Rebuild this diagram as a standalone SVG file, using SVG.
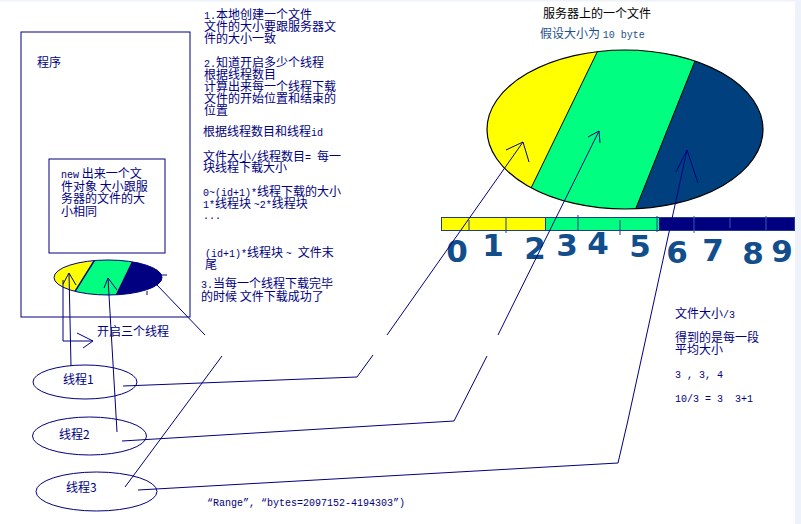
<svg xmlns="http://www.w3.org/2000/svg" width="801" height="524" viewBox="0 0 801 524">
<style>
.t{font-family:"Noto Sans CJK SC","Noto Sans",sans-serif;font-size:12px;fill:#000080;white-space:pre}
.m{font-family:"Liberation Mono",monospace;font-size:10px}
.ln{fill:none;stroke:#000080;stroke-width:1}
.node{fill:#fff;stroke:#000080;stroke-width:1}
.dg{font-family:"DejaVu Sans",sans-serif;font-size:31px;font-weight:bold;fill:#124d8c;text-anchor:middle}
.tick{stroke:#1f3d8c;stroke-width:1}
</style>
<defs>
<clipPath id="bigclip"><ellipse cx="625" cy="129.5" rx="138" ry="79.5"/></clipPath>
<clipPath id="miniclip"><ellipse cx="108" cy="277.5" rx="54" ry="17.5"/></clipPath>
</defs>
<rect x="0" y="0" width="801" height="524" fill="#fff"/>
<rect x="0" y="0" width="801" height="1.5" fill="#eef2fa"/>
<rect x="795" y="0" width="6" height="524" fill="#eef2fa"/>

<g id="program">
<rect x="21" y="32" width="169" height="285" fill="none" stroke="#000080"/>
<text class="t" x="37" y="67">程序</text>
</g>

<g id="new-file">
<rect x="49" y="159" width="116" height="94" fill="none" stroke="#000080"/>
<text class="t"><tspan x="61" y="178"><tspan class="m">new</tspan> 出来一个文</tspan><tspan x="61" y="191">件对象 大小跟服</tspan><tspan x="61" y="203">务器的文件的大</tspan><tspan x="61" y="216">小相同</tspan></text>
</g>

<g id="local-file">
<g clip-path="url(#miniclip)">
<rect x="50" y="255" width="120" height="45" fill="#ffff00"/>
<polygon points="97.8,255 134.9,255 113.1,300 69.6,300" fill="#00ff80"/>
<polygon points="134.9,255 170,255 170,300 113.1,300" fill="#000080"/>
<line x1="97.8" y1="255" x2="69.6" y2="300" stroke="#000080" stroke-width="1.5"/>
</g>
<ellipse cx="108" cy="277.5" rx="54" ry="17.5" fill="none" stroke="#000080"/>
<line x1="159" y1="275" x2="167" y2="275" class="ln"/>
<line x1="147" y1="291" x2="147" y2="295" class="ln"/>
</g>

<g id="thread1">
<ellipse cx="85" cy="382" rx="52" ry="17" class="node"/>
<text class="t" x="63" y="384">线程1</text>
</g>
<g id="thread2">
<ellipse cx="89.5" cy="436" rx="57" ry="19" class="node"/>
<text class="t" x="59" y="439">线程2</text>
</g>
<g id="thread3">
<ellipse cx="96.5" cy="491.5" rx="60.5" ry="19.5" class="node"/>
<text class="t" x="66" y="492">线程3</text>
</g>

<g id="server-file">
<text class="t" x="543" y="18" style="fill:#000">服务器上的一个文件</text>
<text class="t" x="540" y="38" style="fill:#1d4f8c">假设大小为 <tspan class="m">10 byte</tspan></text>
<g clip-path="url(#bigclip)">
<rect x="480" y="40" width="300" height="180" fill="#ffff00"/>
<polygon points="603,40 703.4,40 631.2,220 515.5,220" fill="#00ff80"/>
<polygon points="703.4,40 780,40 780,220 631.2,220" fill="#00407f"/>
<line x1="603" y1="40" x2="515.5" y2="220" stroke="#000" stroke-width="1"/>
<line x1="703.4" y1="40" x2="631.2" y2="220" stroke="#000" stroke-width="1"/>
</g>
<ellipse cx="625" cy="129.5" rx="138" ry="79.5" fill="none" stroke="#000" stroke-width="1.2"/>
</g>

<g id="bytes">
<rect x="441" y="217" width="104" height="14" fill="#ffff00"/>
<rect x="545" y="217" width="114" height="14" fill="#00ff80"/>
<rect x="659" y="217" width="136" height="14" fill="#000080"/>
<rect x="441.5" y="217.5" width="353" height="13" fill="none" stroke="#1f3d8c"/>
<line class="tick" x1="469" y1="220" x2="469" y2="230"/>
<line class="tick" x1="506" y1="218" x2="506" y2="233"/>
<line class="tick" x1="545.5" y1="218" x2="545.5" y2="230"/>
<line class="tick" x1="578" y1="215" x2="578" y2="230"/>
<line class="tick" x1="620" y1="220" x2="620" y2="235"/>
<line class="tick" x1="657" y1="216" x2="657" y2="232"/>
<line class="tick" x1="694" y1="216" x2="694" y2="233" style="stroke:#3a5ab0"/>
<line class="tick" x1="730" y1="218" x2="730" y2="228" style="stroke:#3a5ab0"/>
<line class="tick" x1="766" y1="216" x2="766" y2="230" style="stroke:#3a5ab0"/>
<text class="dg" x="457" y="262">0</text>
<text class="dg" x="493" y="256">1</text>
<text class="dg" x="535" y="259">2</text>
<text class="dg" x="567" y="256">3</text>
<text class="dg" x="598" y="254">4</text>
<text class="dg" x="640" y="257">5</text>
<text class="dg" x="677" y="263">6</text>
<text class="dg" x="713" y="261">7</text>
<text class="dg" x="753" y="264">8</text>
<text class="dg" x="782" y="262">9</text>
</g>

<g id="notes">
<text class="t"><tspan x="204" y="19"><tspan class="m">1.</tspan>本地创建一个文件</tspan><tspan x="204" y="31">文件的大小要跟服务器文</tspan><tspan x="204" y="43">件的大小一致</tspan></text>
<text class="t"><tspan x="204" y="67"><tspan class="m">2.</tspan>知道开启多少个线程</tspan><tspan x="204" y="79">根据线程数目</tspan><tspan x="204" y="91">计算出来每一个线程下载</tspan><tspan x="204" y="103">文件的开始位置和结束的</tspan><tspan x="204" y="115">位置</tspan></text>
<text class="t" x="203" y="136">根据线程数目和线程<tspan class="m">id</tspan></text>
<text class="t"><tspan x="203" y="161">文件大小<tspan class="m">/</tspan>线程数目<tspan class="m">= </tspan>每一</tspan><tspan x="203" y="172">块线程下载大小</tspan></text>
<text class="t"><tspan x="203" y="196"><tspan class="m">0~(id+1)*</tspan>线程下载的大小</tspan><tspan x="203" y="208"><tspan class="m">1*</tspan>线程块 <tspan class="m">~2*</tspan>线程块</tspan><tspan x="203" y="219" class="m">...</tspan></text>
<text class="t"><tspan x="205" y="257"><tspan class="m">(id+1)*</tspan>线程块 <tspan class="m">~ </tspan>文件末</tspan><tspan x="205" y="269">尾</tspan></text>
<text class="t"><tspan x="201" y="288"><tspan class="m">3.</tspan>当每一个线程下载完毕</tspan><tspan x="201" y="301">的时候 文件下载成功了</tspan></text>
<text class="t" x="97" y="336">开启三个线程</text>
<text class="t" x="675" y="318">文件大小<tspan class="m">/3</tspan></text>
<text class="t"><tspan x="675" y="342">得到的是每一段</tspan><tspan x="675" y="354">平均大小</tspan></text>
<text class="t m" x="675" y="378">3 , 3, 4</text>
<text class="t m" x="675" y="402">10/3 = 3  3+1</text>
<text class="t m" x="207" y="506">“Range”, “bytes=2097152-4194303”)</text>
</g>

<g id="connectors" class="ln">
<path d="M157 285 L205 335"/>
<path d="M222 356 L125 487"/>
<path d="M123 386 L357 377 L373 355"/>
<path d="M387 335 L523 142"/>
<path d="M506 150 L523 142 L529 162"/>
<path d="M122 441 L454 421 L487 356"/>
<path d="M498 335 L599 131"/>
<path d="M588 137 L599 131 L600 143"/>
<path d="M138 490 L618 463 L628 420 L687 150"/>
<path d="M676 172 L687 150 L698 183"/>
<path d="M69 273 L71 366"/>
<path d="M63 284 L69 273 L76 285"/>
<path d="M63 280 L63 341 L93 341"/>
<path d="M77 333 L93 341 L83 348"/>
<path d="M108 278 L117 432"/>
<path d="M104 288 L108 278 L117 290"/>
</g>
</svg>
